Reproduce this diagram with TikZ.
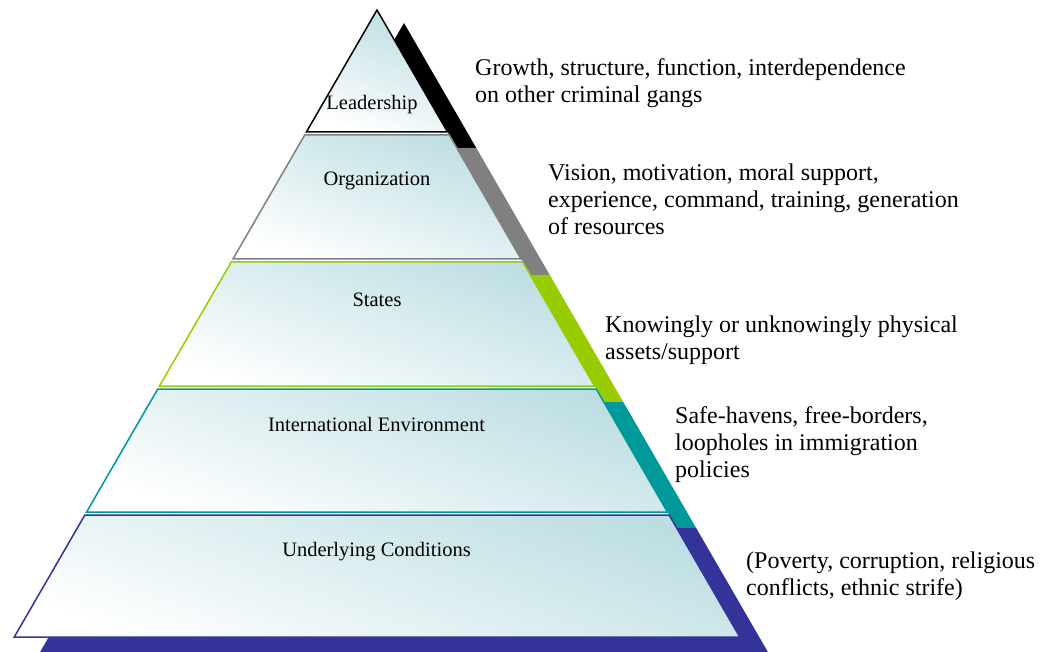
\documentclass[tikz,border=0pt]{standalone}
\usepackage{fontspec}
\setmainfont{Liberation Serif}
\definecolor{bandtop}{RGB}{188,222,226}
\definecolor{lvlblack}{RGB}{0,0,0}
\definecolor{lvlgrey}{RGB}{128,128,128}
\definecolor{lvlgreen}{RGB}{153,204,0}
\definecolor{lvlteal}{RGB}{0,153,153}
\definecolor{lvlblue}{RGB}{51,51,153}
\newcommand\pyrshadow[3]{%
  \fill[#3] ({404-0.5785*(#1-10)},{#1+13}) -- ({404+0.5785*(#1-10)},{#1+13})
    -- ({404+0.5785*(#2-10)},{#2+13}) -- ({404-0.5785*(#2-10)},{#2+13}) -- cycle;}
\newcommand\pyrband[3]{%
  \draw[#3, bandface] ({377-0.5785*(#1-10)},#1) -- ({377+0.5785*(#1-10)},#1)
    -- ({377+0.5785*(#2-10)},#2) -- ({377-0.5785*(#2-10)},#2) -- cycle;}
\begin{document}
\begin{tikzpicture}[x=1pt,y=-1pt,
  bandface/.style={line width=1.5pt, line join=miter, top color=bandtop, bottom color=white, shading angle=-20},
  bandlabel/.style={font=\fontsize{20.5}{24}\selectfont, anchor=base, inner sep=0pt},
  sidetext/.style={font=\fontsize{24}{27}\selectfont, align=left, anchor=base west, inner sep=0pt}]
\useasboundingbox (0,0) rectangle (1049,652);
% shadows
\pyrshadow{10}{135}{lvlblack}
\pyrshadow{135}{262}{lvlgrey}
\pyrshadow{262}{389}{lvlgreen}
\pyrshadow{389}{515}{lvlteal}
\pyrshadow{515}{640}{lvlblue}
% white body
\fill[white] (377,10) -- ({377+0.5785*627},637) -- ({377-0.5785*627},637) -- cycle;
% bands
\pyrband{10}{132}{lvlblack}
\pyrband{135}{259}{lvlgrey}
\pyrband{262}{386}{lvlgreen}
\pyrband{389}{512}{lvlteal}
\pyrband{515}{637}{lvlblue}
% labels
\node[bandlabel] (lead) at (372,110) {Leadership};
\node[bandlabel] (org) at (377,186) {Organization};
\node[bandlabel] (states) at (377,306) {States};
\node[bandlabel] (intl) at (376.5,431) {International Environment};
\node[bandlabel] (under) at (376.5,556) {Underlying Conditions};
% side texts (anchor = baseline of last line)
\node[sidetext] (tlead) at (475,103) {Growth, structure, function, interdependence\\on other criminal gangs};
\node[sidetext] (torg) at (548,235) {Vision, motivation, moral support,\\experience, command, training, generation\\of resources};
\node[sidetext] (tstates) at (605,359) {Knowingly or unknowingly physical\\assets/support};
\node[sidetext] (tintl) at (675,477) {Safe-havens, free-borders,\\loopholes in immigration\\policies};
\node[sidetext] (tunder) at (746,595) {(Poverty, corruption, religious\\conflicts, ethnic strife)};
\end{tikzpicture}
\end{document}
